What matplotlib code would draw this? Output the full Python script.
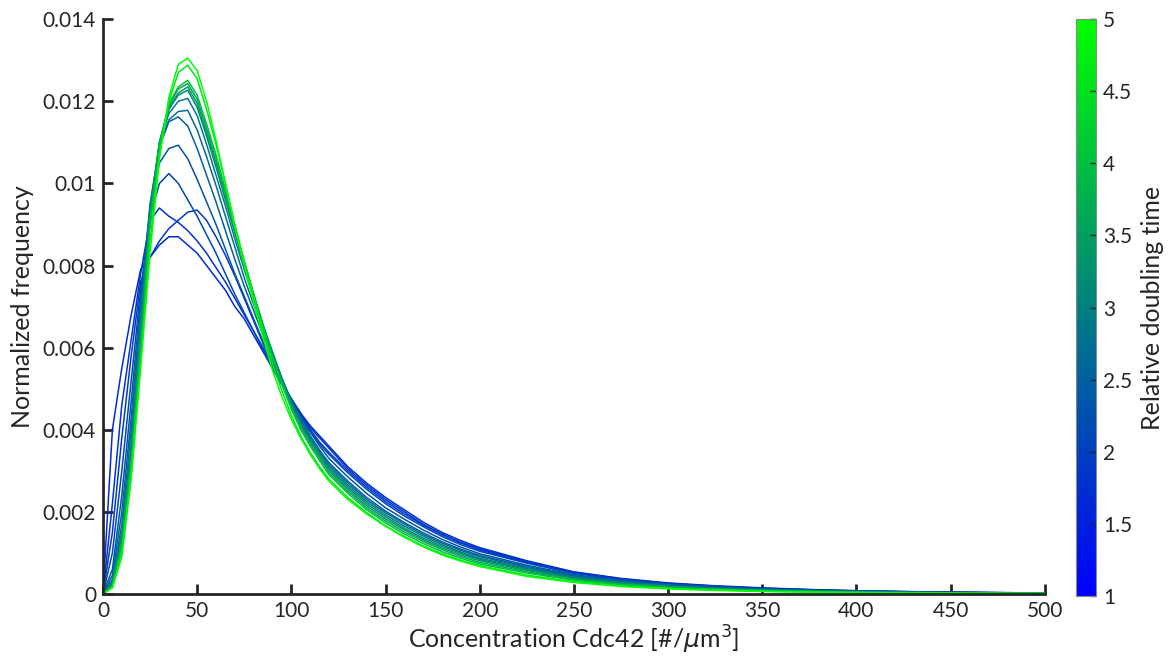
import numpy as np
import matplotlib
matplotlib.use("Agg")
from matplotlib import pyplot as plt
from matplotlib.colors import LinearSegmentedColormap, Normalize
from matplotlib.cm import ScalarMappable
from matplotlib.ticker import FormatStrFormatter

plt.rcParams['font.family'] = ['Lato', 'DejaVu Sans']

# concentration bins (#/um^3)
conc = [0, 5, 10, 15, 20, 25, 30, 35, 40, 45, 50, 55, 60, 65, 70, 75, 80, 85, 90, 95,
        100, 105, 110, 115, 120, 130, 140, 150, 160, 170, 180, 190, 200,
        225, 250, 275, 300, 325, 350, 375, 400, 425, 450, 475, 500]

# relative doubling time of each curve
doubling = [1.7, 1.8, 1.9, 2.1, 2.3, 2.5, 2.7, 2.9, 3.1, 3.4, 3.7, 4.0, 4.6, 5.0]

# normalized frequency, in units of 1e-4
freq = [
    [0, 40, 55, 68, 79, 82, 85, 87, 87, 85, 83, 80, 77, 74, 70, 67, 63, 59, 55, 51,
     47.5, 44, 41, 38.5, 36, 31, 27, 23.5, 20.5, 17.5, 15, 13, 11.3,
     8.1, 5.4, 3.8, 2.7, 2.0, 1.5, 1.1, 0.8, 0.6, 0.45, 0.35, 0.25],
    [0, 22, 46, 62, 78, 91, 94, 92, 90.5, 88.5, 86, 83, 79.5, 76, 72, 68, 64, 60, 55.5, 51.5,
     47.5, 44, 40.5, 38, 35.5, 30.5, 26.5, 23, 20, 17, 14.6, 12.6, 11,
     7.9, 5.3, 3.7, 2.6, 1.9, 1.4, 1.05, 0.78, 0.58, 0.43, 0.33, 0.24],
    [0, 15, 38, 58, 76, 82, 86, 89, 91, 93, 93.5, 91, 87, 82.5, 77.5, 72, 66.5, 61, 56, 51.5,
     47.5, 43.5, 40, 37, 34.5, 30, 26, 22.5, 19.5, 16.8, 14.4, 12.4, 10.7,
     7.7, 5.2, 3.6, 2.5, 1.85, 1.35, 1.0, 0.75, 0.56, 0.42, 0.32, 0.23],
    [0, 10, 30, 52, 74, 92, 100, 102.4, 100, 96, 92, 87.5, 83, 78, 73, 68.5, 64, 59.5, 55, 51,
     47, 43, 39.5, 36.5, 34, 29.5, 25.5, 22, 19, 16.4, 14, 12, 10.4,
     7.5, 5.0, 3.5, 2.45, 1.8, 1.3, 0.95, 0.72, 0.54, 0.4, 0.3, 0.22],
    [0, 6, 24, 47, 72, 94, 105, 108.5, 109.3, 106, 101, 95.5, 90, 84, 78, 72.5, 67, 61.5, 56.5, 52,
     47, 43, 39.5, 36, 33, 28.5, 24.5, 21, 18.2, 15.6, 13.3, 11.4, 9.8,
     7.0, 4.7, 3.3, 2.3, 1.65, 1.2, 0.9, 0.67, 0.5, 0.37, 0.28, 0.2],
    [0, 4.5, 20, 43, 70, 95, 109, 115, 116.2, 114, 108.5, 102, 95.5, 88.5, 81.5, 75, 69, 63, 57.5, 52,
     47, 42.5, 38.5, 35, 32, 27.5, 23.5, 20.2, 17.4, 14.9, 12.7, 10.9, 9.4,
     6.7, 4.5, 3.1, 2.15, 1.55, 1.12, 0.82, 0.6, 0.45, 0.33, 0.25, 0.18],
    [0, 3.5, 17, 40, 68, 94, 109, 115.5, 117.5, 117.8, 113, 106.5, 99.5, 92, 84.5, 77, 70.5, 64, 58, 52.5,
     47, 42.5, 38.5, 35, 31.5, 27, 23, 19.8, 17, 14.5, 12.4, 10.6, 9.1,
     6.5, 4.3, 3.0, 2.05, 1.48, 1.07, 0.78, 0.57, 0.42, 0.31, 0.23, 0.17],
    [0, 3, 15, 37, 66, 94, 110, 117, 120, 120.7, 116.5, 109.5, 102, 94.5, 86.5, 79, 72, 65, 58.5, 52.5,
     47, 42, 38, 34.5, 31, 26.5, 22.5, 19.3, 16.5, 14.1, 12, 10.2, 8.7,
     6.2, 4.1, 2.85, 1.95, 1.4, 1.0, 0.74, 0.54, 0.4, 0.29, 0.22, 0.16],
    [0, 2.5, 14, 35, 64, 93, 110, 118, 121.5, 122.7, 118.5, 111.5, 104, 96, 88, 80, 72.5, 65.5, 59, 52.5,
     46.5, 41.5, 37.5, 34, 30.5, 26, 22, 18.8, 16, 13.6, 11.6, 9.9, 8.4,
     6.0, 3.95, 2.7, 1.85, 1.32, 0.95, 0.7, 0.51, 0.37, 0.27, 0.2, 0.15],
    [0, 2.2, 13, 33, 62, 92, 110, 118.5, 122, 123.5, 119.5, 112.5, 105, 97, 88.5, 80.5, 73, 65.5, 58.5, 52,
     46, 41, 37, 33.5, 30, 25.5, 21.5, 18.3, 15.6, 13.2, 11.2, 9.5, 8.1,
     5.7, 3.75, 2.55, 1.75, 1.25, 0.9, 0.66, 0.48, 0.35, 0.26, 0.19, 0.14],
    [0, 2, 12, 32, 60, 91, 110, 119, 123, 124.3, 120.5, 113.5, 106, 97.5, 89, 81, 73, 65.5, 58, 51.5,
     45.5, 40.5, 36.5, 33, 29.5, 25, 21, 17.8, 15.1, 12.8, 10.8, 9.1, 7.7,
     5.4, 3.55, 2.4, 1.65, 1.18, 0.85, 0.62, 0.45, 0.33, 0.24, 0.18, 0.13],
    [0, 1.8, 11, 31, 58, 89, 109, 119.5, 123.5, 125.1, 121.5, 114.5, 107, 98.5, 89.5, 81, 73, 65, 57.5, 51,
     45, 40, 36, 32.5, 29, 24.5, 20.5, 17.3, 14.6, 12.3, 10.3, 8.7, 7.3,
     5.1, 3.35, 2.25, 1.55, 1.1, 0.8, 0.58, 0.42, 0.31, 0.22, 0.16, 0.12],
    [0, 1.6, 10, 29.5, 56.5, 86, 107, 120, 127, 128.8, 125.5, 118, 109.5, 100, 90, 81, 72.5, 64, 56, 49.5,
     43.5, 38.5, 34.5, 31, 28, 23.5, 19.8, 16.6, 14, 11.7, 9.8, 8.2, 6.9,
     4.6, 3.0, 2.0, 1.35, 0.95, 0.68, 0.5, 0.36, 0.26, 0.19, 0.14, 0.1],
    [0, 1.5, 9, 28, 55, 83, 106, 121, 129, 130.5, 127.5, 120, 110.5, 100, 89.5, 80, 71, 62.5, 54.5, 48,
     42.5, 38, 34, 30.5, 27.5, 23, 19.5, 16.5, 13.8, 11.5, 9.5, 8, 6.7,
     4.3, 2.8, 1.85, 1.25, 0.88, 0.62, 0.45, 0.33, 0.24, 0.17, 0.12, 0.09],
]

x_ticks = [0, 50, 100, 150, 200, 250, 300, 350, 400, 450, 500]
y_ticks = [0, 0.002, 0.004, 0.006, 0.008, 0.01, 0.012, 0.014]
cb_ticks = [1, 1.5, 2, 2.5, 3, 3.5, 4, 4.5, 5]

txt = '#262626'
cmap = LinearSegmentedColormap.from_list('bluegreen', [(0, 0, 1), (0, 1, 0)])
norm = Normalize(vmin=1, vmax=5)

fig = plt.figure(figsize=(11.7, 6.6), dpi=100)
ax = fig.add_axes([0.088, 0.1, 0.805, 0.871])

for tau, f in zip(doubling, freq):
    ax.plot(conc, np.array(f) * 1e-4, color=cmap(norm(tau)), lw=1.1)

ax.set_xlim(0, 500)
ax.set_ylim(0, 0.014)
ax.set_xticks(x_ticks)
ax.set_yticks(y_ticks)
ax.yaxis.set_major_formatter(FormatStrFormatter('%g'))
ax.spines['top'].set_visible(False)
ax.spines['right'].set_visible(False)
for s in ['left', 'bottom']:
    ax.spines[s].set_linewidth(2)
    ax.spines[s].set_color(txt)
ax.tick_params(direction='in', length=7, width=2, color=txt, labelcolor=txt,
               labelsize=15, pad=5)
ax.set_xlabel(r'Concentration Cdc42 [#/$\mu$m$^3$]', fontsize=18, color=txt, labelpad=2)
ax.set_ylabel('Normalized frequency', fontsize=18, color=txt, labelpad=6)

cax = fig.add_axes([0.92, 0.097, 0.017, 0.874])
cb = fig.colorbar(ScalarMappable(norm=norm, cmap=cmap), cax=cax, ticks=cb_ticks)
cb.ax.yaxis.set_major_formatter(FormatStrFormatter('%g'))
cb.outline.set_edgecolor('#888888')
cb.outline.set_linewidth(0.8)
cb.ax.tick_params(direction='in', length=4, width=1, color=txt, labelcolor=txt,
                  labelsize=15, pad=5)
cb.set_label('Relative doubling time', fontsize=18, color=txt, labelpad=6)

fig.savefig('out.png', dpi=100)
